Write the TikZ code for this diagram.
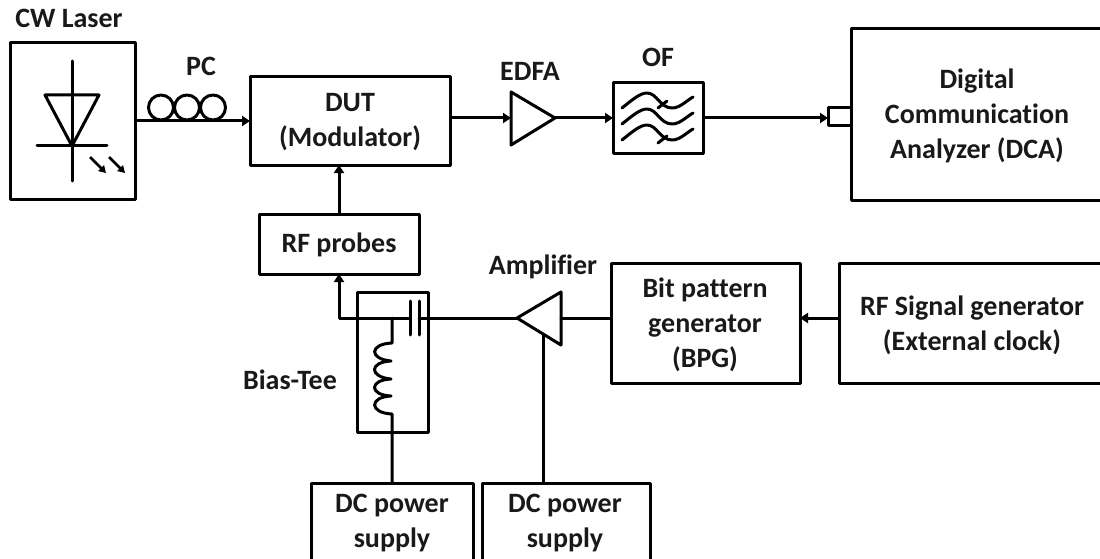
\documentclass[tikz,border=0pt]{standalone}
\usepackage{fontspec}
\setmainfont{Carlito}[BoldFont=Carlito Bold,Ligatures=NoCommon]
\usetikzlibrary{arrows.meta}
\tikzset{
  x=1pt,y=-1pt,
  ln/.style={line width=3pt,line join=round,line cap=round},
  conn/.style={line width=3pt,line join=round,-{Triangle[length=8pt,width=10pt]}},
  small arrow/.style={line width=2.5pt,-{Triangle[length=7pt,width=8pt]}},
  blockbox/.style={ln,draw,rectangle,inner sep=0pt,outer sep=0pt},
  lab/.style={inner sep=0pt,align=center,font=\fontsize{28}{35}\selectfont\bfseries,text=black!90},
}
\newcommand{\bx}[5]{\node[blockbox,minimum width=#4-#2,minimum height=#5-#3] (#1) at ({(#2+#4)/2},{(#3+#5)/2}) {};}
\begin{document}
\begin{tikzpicture}
\useasboundingbox (0,0) rectangle (1100,559);
\clip (0,0) rectangle (1100,559);
\bx{laser}{10}{43}{135}{199}
\bx{dut}{250}{77}{450}{165}
\bx{rfp}{259}{214}{419}{274}
\bx{of}{613}{83}{703}{153}
\bx{dca}{851}{29}{1115}{200}
\bx{port}{828}{108}{851}{126}
\bx{bt}{357}{292}{428}{432}
\bx{bpg}{611}{263}{800}{383}
\bx{rfg}{839}{263}{1115}{383}
\bx{dcone}{311}{483}{473}{575}
\bx{dctwo}{482}{483}{650}{575}
% texts
\node[lab] (tdut) at (350,122) {DUT\\(Modulator)};
\node[lab] (trfp) at (339,245) {RF probes};
\node[lab] (tdca) at (977,116) {Digital\\Communication\\Analyzer (DCA)};
\node[lab] (tbpg) at (705,325) {Bit pattern\\generator\\(BPG)};
\node[lab] (trfg) at (972,325) {RF Signal generator\\(External clock)};
\node[lab] (tdc1) at (392,523) {DC power\\supply};
\node[lab] (tdc2) at (565,523) {DC power\\supply};
\node[lab] (tlaser) at (69,18) {CW Laser};
\node[lab] (tpc) at (201,66) {PC};
\node[lab] (tedfa) at (530,71) {EDFA};
\node[lab] (tof) at (658,57) {OF};
\node[lab] (tamp) at (543,267) {Amplifier};
\node[lab] (tbt) at (290,380) {Bias-Tee};
% diode
\draw[ln] (72,61) -- (72,181);
\draw[ln] (45,95) -- (99,95) -- (72,146) -- cycle;
\draw[ln] (37,146) -- (107,146);
\draw[small arrow] (90,157) -- (106,173);
\draw[small arrow] (109,157) -- (125,173);
% PC
\draw[ln] (161,107.5) circle (12.5);
\draw[ln] (187,107.5) circle (12.5);
\draw[ln] (213,107.5) circle (12.5);
\coordinate (ledge) at (134,121);
\draw[conn] (laser.east |- ledge) -- (dut.west |- ledge);
% EDFA
\coordinate (eb) at (511,118);
\coordinate (et) at (555,118);
\draw[ln] (511,92) -- (et) -- (511,145) -- cycle;
\draw[conn] (dut.east |- eb) -- (eb);
\draw[conn] (et) -- (of.west |- et);
\draw[conn] (of.east |- et) -- (port.west |- et);
% filter waves
\foreach \dy in {0,16,32} {
 \draw[ln] (622,{108+\dy}) .. controls (632,{100+\dy}) and (640,{93+\dy}) .. (647,{93+\dy})
   .. controls (657,{93+\dy}) and (660,{108+\dy}) .. (672,{108+\dy})
   .. controls (680,{108+\dy}) and (686,{101+\dy}) .. (693,{97+\dy});
}
\draw[ln] (658,108) -- (667,101);
\draw[ln] (658,143) -- (667,136);
% RF probes to DUT
\coordinate (pu) at (339,200);
\draw[conn] (rfp.north -| pu) -- (dut.south -| pu);
% feed line
\coordinate (join) at (339,318);
\coordinate (cap1) at (410,318);
\coordinate (cap2) at (419,318);
\coordinate (ampt) at (517,318);
\coordinate (ampd) at (543,335);
\coordinate (ib) at (392,414);
\draw[conn] (cap1) -- (join) -- (rfp.south -| join);
\draw[ln] (cap2) -- (ampt);
\draw[ln] (410,301) -- (410,335);
\draw[ln] (419,301) -- (419,335);
% amplifier
\draw[ln] (561,292) -- (ampt) -- (561,345) -- cycle;
\draw[ln] (561,318) -- (bpg.west |- ampt);
\draw[conn] (rfg.west |- ampt) -- (bpg.east |- ampt);
\draw[ln] (ampd) -- (dctwo.north -| ampd);
% inductor
\draw[ln] (392,318) -- (392,343)
  .. controls (369,344) and (369,359) .. (391,361)
  .. controls (369,362) and (369,377) .. (391,379)
  .. controls (369,380) and (369,395) .. (391,396)
  .. controls (369,397) and (369,413) .. (392,414)
  -- (dcone.north -| ib);
\end{tikzpicture}
\end{document}
